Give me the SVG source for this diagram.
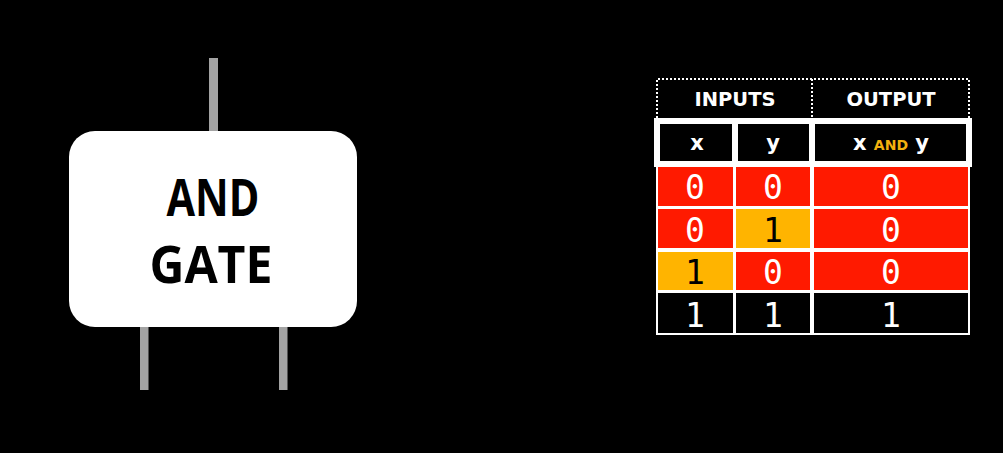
<svg xmlns="http://www.w3.org/2000/svg" width="1003" height="453" viewBox="0 0 1003 453">
<style>
.wire{fill:#a3a3a3}
.gate-title{font-family:"Open Sans","Noto Sans","DejaVu Sans",sans-serif;font-weight:700;font-size:52px;fill:#000;text-anchor:middle}
.hdr{font-family:"DejaVu Sans","Liberation Sans",sans-serif;font-weight:700;fill:#fff;text-anchor:middle}
.dig{font-family:"DejaVu Sans Mono","Liberation Mono",monospace;font-size:33px;text-anchor:middle}
.red{fill:#ff1a00}
.yel{fill:#ffb400}
.blk{fill:#000}
.w{fill:#fff}
.k{fill:#000}
</style>
<rect x="0" y="0" width="1003" height="453" fill="#000"/>
<g id="connectors">
<rect class="wire" x="209" y="58" width="9" height="75"/>
<rect class="wire" x="140" y="325" width="8.5" height="65"/>
<rect class="wire" x="279" y="325" width="8.5" height="65"/>
</g>
<g id="and-gate">
<rect x="69" y="131" width="288" height="196" rx="26" ry="26" fill="#fff"/>
<text class="gate-title" x="213" y="216" textLength="93" lengthAdjust="spacingAndGlyphs">AND</text>
<text class="gate-title" x="211" y="283" textLength="123" lengthAdjust="spacingAndGlyphs">GATE</text>
</g>
<g id="truth-table">
<g id="group-header">
<path d="M657 118 V79 H969 V118 M812 79 V118" fill="none" stroke="#fff" stroke-width="2" stroke-dasharray="2 2"/>
<text class="hdr" x="735" y="106" font-size="19.5">INPUTS</text>
<text class="hdr" x="891" y="106" font-size="19.5">OUTPUT</text>
</g>
<g id="column-header">
<rect x="654" y="118" width="318" height="49" fill="#fff"/>
<rect x="660" y="124" width="72" height="37" fill="#000"/>
<rect x="738" y="124" width="71" height="37" fill="#000"/>
<rect x="815" y="124" width="151" height="37" fill="#000"/>
<text class="hdr" x="697" y="150" font-size="21">x</text>
<text class="hdr" x="773" y="150" font-size="21">y</text>
<text class="hdr" x="891" y="150" font-size="21">x <tspan font-size="14" fill="#f2b10f">AND</tspan> y</text>
</g>
<g id="rows">
<rect x="656" y="165" width="314" height="170" fill="#fff"/>
<g id="row1">
<rect class="red" x="658" y="167" width="75" height="39"/>
<rect class="red" x="736" y="167" width="74" height="39"/>
<rect class="red" x="814" y="167" width="154" height="39"/>
<text class="dig w" x="695" y="199">0</text>
<text class="dig w" x="773" y="199">0</text>
<text class="dig w" x="891" y="199">0</text>
</g>
<g id="row2">
<rect class="red" x="658" y="209" width="75" height="39"/>
<rect class="yel" x="736" y="209" width="74" height="39"/>
<rect class="red" x="814" y="209" width="154" height="39"/>
<text class="dig w" x="695" y="241.5">0</text>
<text class="dig k" x="773" y="241.5">1</text>
<text class="dig w" x="891" y="241.5">0</text>
</g>
<g id="row3">
<rect class="yel" x="658" y="252" width="75" height="38"/>
<rect class="red" x="736" y="252" width="74" height="38"/>
<rect class="red" x="814" y="252" width="154" height="38"/>
<text class="dig k" x="695" y="283.5">1</text>
<text class="dig w" x="773" y="283.5">0</text>
<text class="dig w" x="891" y="283.5">0</text>
</g>
<g id="row4">
<rect class="blk" x="658" y="293" width="75" height="40"/>
<rect class="blk" x="736" y="293" width="74" height="40"/>
<rect class="blk" x="814" y="293" width="154" height="40"/>
<text class="dig w" x="695" y="326.5">1</text>
<text class="dig w" x="773" y="326.5">1</text>
<text class="dig w" x="891" y="326.5">1</text>
</g>
</g>
</g>
</svg>
